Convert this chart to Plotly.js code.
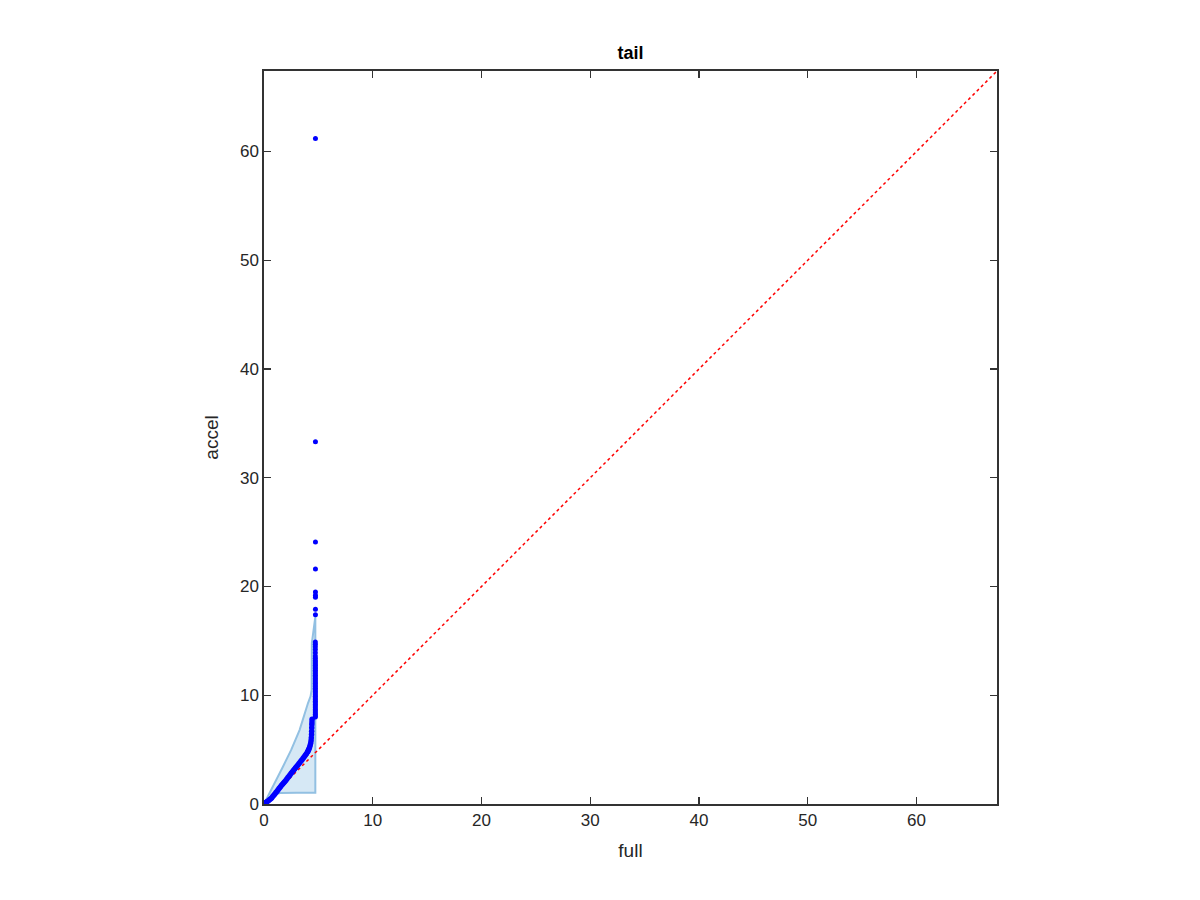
<!DOCTYPE html>
<html>
<head>
<meta charset="utf-8">
<script src="https://cdn.plot.ly/plotly-3.0.1.min.js"></script>
<style>html,body{margin:0;padding:0;background:#fff;}#plot{width:1200px;height:900px;}</style>
</head>
<body>
<div id="plot"></div>
<script>
// Confidence band (upper edge, then right edge, then lower edge back to origin)
const bandX = [0, 0.5, 1.0, 1.74, 2.5, 3.27, 4.04, 4.28, 4.38, 4.4, 4.72, 4.72, 4.72, 3.0, 1.5, 1.0, 0.5, 0.2, 0];
const bandY = [0, 0.95, 1.95, 3.43, 4.97, 6.8, 9.26, 9.9, 10.5, 14.8, 17.2, 8.0, 1.04, 1.03, 1.02, 0.9, 0.55, 0.2, 0];

// Main body of the quantile points
const curveX = [0, 0.05, 0.1, 0.15, 0.2, 0.3, 0.4, 0.5, 0.6, 0.7, 0.8, 0.9, 1.0, 1.1, 1.2, 1.3, 1.4, 1.5, 1.6, 1.7, 1.8, 1.9, 2.0, 2.1, 2.2, 2.3, 2.4, 2.5, 2.6, 2.7, 2.8, 2.9, 3.0, 3.1, 3.2, 3.3, 3.4, 3.5, 3.6, 3.7, 3.8, 3.9, 4.0, 4.05, 4.1, 4.15, 4.2, 4.25, 4.3, 4.33, 4.35, 4.37, 4.38, 4.39, 4.4, 4.41, 4.42];
const curveY = [0, 0.04, 0.08, 0.12, 0.16, 0.23, 0.31, 0.39, 0.47, 0.56, 0.68, 0.80, 0.93, 1.05, 1.18, 1.31, 1.44, 1.56, 1.69, 1.81, 1.93, 2.05, 2.17, 2.30, 2.43, 2.56, 2.69, 2.82, 2.94, 3.07, 3.20, 3.33, 3.45, 3.57, 3.69, 3.82, 3.95, 4.08, 4.21, 4.34, 4.48, 4.63, 4.79, 4.88, 4.98, 5.10, 5.25, 5.42, 5.62, 5.85, 6.10, 6.40, 6.70, 7.00, 7.30, 7.55, 7.80];

// Tail points stacked at the maximum of "full"
const tailX = [4.72, 4.72, 4.72, 4.72, 4.72, 4.72, 4.72, 4.72, 4.72, 4.72, 4.72, 4.72, 4.72, 4.72, 4.72, 4.72, 4.72, 4.72, 4.72, 4.72, 4.72, 4.72, 4.72, 4.72, 4.72, 4.72, 4.72, 4.72, 4.72, 4.72, 4.72, 4.72, 4.72, 4.72, 4.72, 4.72, 4.72, 4.72, 4.72, 4.72, 4.72, 4.72, 4.72, 4.73, 4.73, 4.73, 4.73, 4.73, 4.73, 4.73, 4.73, 4.73];
const tailY = [8.0, 8.1, 8.25, 8.4, 8.55, 8.7, 8.85, 9.0, 9.15, 9.3, 9.45, 9.6, 9.75, 9.9, 10.05, 10.2, 10.35, 10.5, 10.65, 10.8, 10.95, 11.1, 11.25, 11.4, 11.55, 11.7, 11.85, 12.0, 12.15, 12.3, 12.45, 12.6, 12.75, 12.9, 13.05, 13.2, 13.4, 13.6, 13.9, 14.2, 14.45, 14.7, 14.9, 17.4, 17.9, 19.0, 19.2, 19.5, 21.6, 24.1, 33.3, 61.2];

// Reference line y = x
const refLine = [0, 67.4];

const tickVals = [0, 10, 20, 30, 40, 50, 60];
const tickText = ['0', '10', '20', '30', '40', '50', '60'];

const font = 'Liberation Sans, Arial, Helvetica, sans-serif';
const axisColor = '#262626';

const traces = [
  {
    x: bandX, y: bandY, type: 'scatter', mode: 'lines',
    fill: 'toself', fillcolor: 'rgb(214,232,245)',
    line: {color: 'rgb(146,192,226)', width: 2},
    hoverinfo: 'skip', showlegend: false
  },
  {
    x: refLine, y: refLine, type: 'scatter', mode: 'lines',
    line: {color: 'rgb(255,0,0)', width: 1.5, dash: 'dot'},
    showlegend: false
  },
  {
    x: curveX, y: curveY, type: 'scatter', mode: 'markers',
    marker: {color: 'rgb(0,0,255)', size: 5.5},
    showlegend: false
  },
  {
    x: tailX, y: tailY, type: 'scatter', mode: 'markers',
    marker: {color: 'rgb(0,0,255)', size: 5},
    showlegend: false
  }
];

const axisCommon = {
  range: [0, 67.4],
  tickvals: tickVals, ticktext: tickText,
  ticks: 'inside', ticklen: 7, tickwidth: 1.3, tickcolor: '#333333',
  showline: true, linecolor: '#333333', linewidth: 1.6, mirror: 'ticks',
  showgrid: false, zeroline: false,
  tickfont: {family: font, size: 17, color: axisColor}
};

const layout = {
  width: 1200, height: 900,
  margin: {l: 264, r: 203, t: 71, b: 96},
  paper_bgcolor: '#ffffff', plot_bgcolor: '#ffffff',
  title: {
    text: '<b>tail</b>',
    font: {family: font, size: 18, color: '#000000'},
    x: 0.5, xref: 'paper', xanchor: 'center',
    y: 1 - 53 / 900, yref: 'container', yanchor: 'middle'
  },
  xaxis: Object.assign({}, axisCommon, {
    title: {text: 'full', font: {family: font, size: 19, color: axisColor}, standoff: 14}
  }),
  yaxis: Object.assign({}, axisCommon, {
    title: {text: 'accel', font: {family: font, size: 19, color: axisColor}, standoff: 16}
  }),
  showlegend: false
};

Plotly.newPlot('plot', traces, layout, {displayModeBar: false, staticPlot: true});
</script>
</body>
</html>
